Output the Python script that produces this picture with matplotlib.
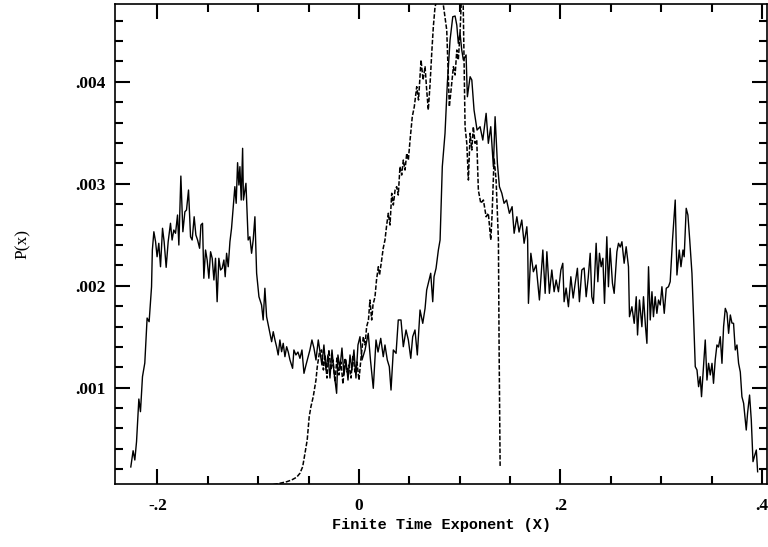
import matplotlib
matplotlib.use("Agg")
from matplotlib import pyplot as plt
from matplotlib.ticker import MultipleLocator, FuncFormatter

# solid curve: finite time exponent X and P(x) in units of 1e-3
solid_x = [-0.2265, -0.2242, -0.2225, -0.2208, -0.2185, -0.2169, -0.2149, -0.2126, -0.2103, -0.2083,
           -0.2059, -0.2051, -0.2036, -0.2019, -0.2004, -0.1987, -0.1970, -0.1950, -0.1934, -0.1914,
           -0.1894, -0.1871, -0.1855, -0.1838, -0.1821, -0.1801, -0.1788, -0.1768, -0.1748, -0.1728,
           -0.1712, -0.1692, -0.1672, -0.1656, -0.1636, -0.1619, -0.1602, -0.1582, -0.1569, -0.1553,
           -0.1540, -0.1523, -0.1507, -0.1490, -0.1473, -0.1457, -0.1440, -0.1424, -0.1408, -0.1391,
           -0.1374, -0.1358, -0.1341, -0.1328, -0.1314, -0.1298, -0.1281, -0.1265, -0.1249, -0.1232,
           -0.1219, -0.1205, -0.1192, -0.1182, -0.1169, -0.1155, -0.1147, -0.1132, -0.1122, -0.1100,
           -0.1083, -0.1066, -0.1050, -0.1033, -0.1016, -0.0993, -0.0967, -0.0951, -0.0934, -0.0917,
           -0.0891, -0.0867, -0.0851, -0.0834, -0.0818, -0.0802, -0.0785, -0.0768, -0.0752, -0.0735,
           -0.0718, -0.0702, -0.0685, -0.0659, -0.0646, -0.0626, -0.0606, -0.0586, -0.0566, -0.0546,
           -0.0526, -0.0504, -0.0487, -0.0467, -0.0447, -0.0427, -0.0404, -0.0387, -0.0368, -0.0348,
           -0.0328, -0.0308, -0.0288, -0.0268, -0.0248, -0.0222, -0.0209, -0.0189, -0.0169, -0.0149,
           -0.0129, -0.0109, -0.0089, -0.0070, -0.0050, -0.0030, -0.0010, 0.0010, 0.0030, 0.0060,
           0.0092, 0.0114, 0.0142, 0.0169, 0.0189, 0.0216, 0.0241, 0.0258, 0.0281, 0.0301,
           0.0318, 0.0341, 0.0368, 0.0390, 0.0417, 0.0440, 0.0467, 0.0490, 0.0514, 0.0533,
           0.0556, 0.0579, 0.0606, 0.0633, 0.0656, 0.0672, 0.0688, 0.0712, 0.0732, 0.0745,
           0.0765, 0.0788, 0.0805, 0.0827, 0.0854, 0.0877, 0.0904, 0.0931, 0.0954, 0.0971,
           0.0986, 0.1003, 0.1020, 0.1036, 0.1063, 0.1076, 0.1103, 0.1120, 0.1142, 0.1172,
           0.1202, 0.1229, 0.1262, 0.1284, 0.1308, 0.1334, 0.1351, 0.1374, 0.1394, 0.1418,
           0.1440, 0.1465, 0.1493, 0.1520, 0.1540, 0.1567, 0.1589, 0.1616, 0.1639, 0.1666,
           0.1674, 0.1682, 0.1706, 0.1731, 0.1758, 0.1791, 0.1825, 0.1848, 0.1865, 0.1890,
           0.1914, 0.1937, 0.1957, 0.1980, 0.2004, 0.2023, 0.2036, 0.2056, 0.2079, 0.2103,
           0.2126, 0.2146, 0.2168, 0.2188, 0.2212, 0.2235, 0.2255, 0.2275, 0.2295, 0.2311,
           0.2327, 0.2354, 0.2371, 0.2387, 0.2404, 0.2421, 0.2437, 0.2460, 0.2476, 0.2493,
           0.2516, 0.2533, 0.2560, 0.2576, 0.2593, 0.2610, 0.2632, 0.2652, 0.2675, 0.2685,
           0.2709, 0.2732, 0.2752, 0.2765, 0.2784, 0.2808, 0.2824, 0.2844, 0.2858, 0.2874,
           0.2891, 0.2908, 0.2923, 0.2940, 0.2957, 0.2973, 0.2990, 0.3007, 0.3030, 0.3050,
           0.3072, 0.3089, 0.3112, 0.3139, 0.3156, 0.3179, 0.3196, 0.3216, 0.3228, 0.3248,
           0.3265, 0.3283, 0.3305, 0.3321, 0.3338, 0.3355, 0.3371, 0.3387, 0.3400, 0.3420,
           0.3437, 0.3454, 0.3470, 0.3487, 0.3504, 0.3519, 0.3536, 0.3553, 0.3569, 0.3586,
           0.3603, 0.3619, 0.3636, 0.3653, 0.3669, 0.3686, 0.3702, 0.3718, 0.3735, 0.3752,
           0.3768, 0.3785, 0.3801, 0.3818, 0.3844, 0.3857, 0.3877, 0.3894, 0.3911, 0.3929,
           0.3944, 0.3957]
solid_p = [0.223, 0.382, 0.291, 0.471, 0.889, 0.765, 1.108, 1.242, 1.683, 1.647,
           1.990, 2.350, 2.529, 2.431, 2.284, 2.416, 2.186, 2.563, 2.431, 2.180,
           2.431, 2.612, 2.448, 2.546, 2.514, 2.693, 2.399, 3.075, 2.529, 2.725,
           2.742, 2.938, 2.480, 2.448, 2.676, 2.497, 2.448, 2.367, 2.595, 2.612,
           2.073, 2.350, 2.252, 2.073, 2.333, 2.269, 2.056, 2.269, 1.843, 2.269,
           2.154, 2.171, 2.252, 2.088, 2.318, 2.186, 2.431, 2.563, 2.759, 2.971,
           2.808, 3.206, 2.987, 3.167, 2.840, 3.347, 2.840, 2.938, 3.004, 2.448,
           2.480, 2.318, 2.448, 2.676, 2.122, 1.892, 1.811, 1.664, 1.975, 1.696,
           1.566, 1.451, 1.549, 1.468, 1.402, 1.321, 1.468, 1.353, 1.435, 1.304,
           1.402, 1.350, 1.272, 1.190, 1.370, 1.321, 1.350, 1.288, 1.370, 1.141,
           1.223, 1.304, 1.370, 1.468, 1.389, 1.272, 1.468, 1.350, 1.223, 1.419,
           1.174, 1.321, 1.095, 1.370, 1.154, 0.945, 1.321, 1.193, 1.389, 1.125,
           1.272, 1.075, 1.321, 1.174, 1.370, 1.095, 1.419, 1.500, 1.272, 1.370,
           1.533, 1.272, 0.994, 1.468, 1.350, 1.484, 1.304, 1.419, 1.272, 1.206,
           0.977, 1.370, 1.337, 1.664, 1.664, 1.402, 1.566, 1.468, 1.288, 1.500,
           1.566, 1.321, 1.762, 1.631, 1.778, 1.958, 2.024, 2.122, 1.843, 2.088,
           2.171, 2.350, 2.448, 3.167, 3.494, 3.984, 4.409, 4.637, 4.644, 4.554,
           4.376, 4.477, 4.311, 4.213, 4.262, 3.853, 4.049, 4.017, 3.723, 3.526,
           3.559, 3.428, 3.690, 3.396, 3.559, 3.167, 3.657, 3.200, 2.971, 2.906,
           2.808, 2.840, 2.710, 2.775, 2.514, 2.676, 2.526, 2.644, 2.416, 2.578,
           2.448, 1.827, 2.318, 2.137, 2.203, 1.860, 2.350, 1.925, 2.333, 1.925,
           2.154, 1.941, 2.056, 1.941, 2.154, 2.220, 1.843, 1.977, 1.794, 2.088,
           1.879, 2.024, 2.171, 1.843, 2.154, 2.174, 1.892, 2.075, 2.318, 1.892,
           1.827, 2.416, 2.039, 2.318, 2.186, 2.269, 1.827, 2.480, 1.990, 2.367,
           2.024, 1.925, 2.333, 2.416, 2.379, 2.431, 2.220, 2.382, 2.186, 1.696,
           1.794, 1.631, 1.892, 1.517, 1.860, 1.598, 1.892, 1.598, 1.435, 2.186,
           1.664, 1.941, 1.696, 1.892, 1.729, 1.860, 1.811, 1.990, 1.729, 1.975,
           1.990, 2.039, 2.448, 2.840, 2.105, 2.350, 2.186, 2.350, 2.284, 2.759,
           2.693, 2.448, 2.122, 1.696, 1.206, 1.174, 1.010, 1.108, 0.912, 1.206,
           1.468, 1.075, 1.239, 1.125, 1.239, 1.043, 1.272, 1.419, 1.399, 1.500,
           1.239, 1.598, 1.778, 1.732, 1.533, 1.713, 1.634, 1.631, 1.370, 1.419,
           1.239, 1.154, 0.912, 0.847, 0.585, 0.749, 0.928, 0.683, 0.275, 0.340,
           0.389, 0.176]

# dashed curve
dash_x = [-0.0851, -0.0785, -0.0718, -0.0669, -0.0619, -0.0586, -0.0559, -0.0536, -0.0514, -0.0494,
          -0.0477, -0.0454, -0.0427, -0.0414, -0.0394, -0.0371, -0.0353, -0.0338, -0.0318, -0.0298,
          -0.0278, -0.0258, -0.0238, -0.0219, -0.0199, -0.0179, -0.0159, -0.0139, -0.0119, -0.0099,
          -0.0079, -0.0060, -0.0040, -0.0020, 0.0000, 0.0020, 0.0043, 0.0060, 0.0076, 0.0094,
          0.0109, 0.0126, 0.0139, 0.0159, 0.0174, 0.0192, 0.0204, 0.0225, 0.0241, 0.0258,
          0.0275, 0.0291, 0.0308, 0.0325, 0.0341, 0.0358, 0.0374, 0.0390, 0.0407, 0.0424,
          0.0440, 0.0457, 0.0474, 0.0490, 0.0507, 0.0529, 0.0549, 0.0573, 0.0591, 0.0616,
          0.0636, 0.0656, 0.0672, 0.0688, 0.0705, 0.0722, 0.0738, 0.0755, 0.0788, 0.0824,
          0.0871, 0.0897, 0.0914, 0.0937, 0.0954, 0.0971, 0.0986, 0.1003, 0.1018, 0.1033,
          0.1043, 0.1053, 0.1070, 0.1086, 0.1103, 0.1120, 0.1135, 0.1152, 0.1169, 0.1185,
          0.1209, 0.1235, 0.1262, 0.1284, 0.1308, 0.1321, 0.1341, 0.1361, 0.1384, 0.1391,
          0.1401]
dash_p = [0.050, 0.063, 0.078, 0.095, 0.122, 0.161, 0.225, 0.357, 0.487, 0.716,
          0.814, 0.912, 1.075, 1.206, 1.337, 1.370, 1.174, 1.321, 1.095, 1.370,
          1.174, 1.272, 1.056, 1.291, 1.125, 1.252, 1.036, 1.291, 1.154, 1.223,
          1.095, 1.321, 1.154, 1.252, 1.075, 1.291, 1.500, 1.419, 1.598, 1.664,
          1.860, 1.664, 1.811, 1.892, 2.056, 2.186, 2.105, 2.252, 2.370, 2.448,
          2.595, 2.710, 2.595, 2.906, 2.791, 2.936, 2.971, 2.889, 3.167, 3.085,
          3.232, 3.134, 3.298, 3.232, 3.428, 3.657, 3.755, 3.951, 3.821, 4.213,
          4.017, 4.147, 3.919, 3.723, 3.968, 4.278, 4.539, 4.735, 4.850, 4.850,
          4.507, 3.755, 3.919, 4.147, 4.066, 4.311, 4.213, 4.477, 4.850, 4.850,
          4.213, 3.559, 3.396, 3.036, 3.494, 3.330, 3.559, 3.396, 3.428, 2.936,
          2.808, 2.840, 2.676, 2.710, 2.448, 2.693, 3.250, 3.036, 2.448, 1.370,
          0.225]

x_ticks = [-0.2, 0.0, 0.2, 0.4]
y_ticks = [0.001, 0.002, 0.003, 0.004]


def strip_zero(v, pos=None):
    if abs(v) < 1e-12:
        return "0"
    s = f"{v:g}"
    return s.replace("0.", ".")


fig = plt.figure(figsize=(7.68, 5.47), dpi=100)
ax = fig.add_axes([0.1501, 0.1152, 0.8486, 0.8775])

ax.plot(solid_x, [p * 1e-3 for p in solid_p], color="black", lw=1.0)
ax.plot(dash_x, [p * 1e-3 for p in dash_p], color="black", lw=1.1, dashes=(3, 1.2))

ax.set_xlim(-0.2419, 0.405)
ax.set_ylim(0.000056, 0.004762)

ax.set_xticks(x_ticks)
ax.xaxis.set_minor_locator(MultipleLocator(0.05))
ax.set_yticks(y_ticks)
ax.yaxis.set_minor_locator(MultipleLocator(0.0002))
ax.xaxis.set_major_formatter(FuncFormatter(strip_zero))
ax.yaxis.set_major_formatter(FuncFormatter(strip_zero))

ax.tick_params(which="both", direction="in", top=True, right=True, width=1.5, color="black")
ax.tick_params(which="major", length=11)
ax.tick_params(which="minor", length=6)
ax.tick_params(axis="x", which="major", pad=10)
ax.tick_params(axis="y", which="major", pad=7)
for lab in ax.get_xticklabels() + ax.get_yticklabels():
    lab.set_fontfamily("Liberation Serif")
    lab.set_fontweight("bold")
    lab.set_fontsize(12.5)
for sp in ax.spines.values():
    sp.set_linewidth(1.2)

ax.set_xlabel("Finite Time Exponent (X)", fontfamily="Liberation Mono", fontweight="bold",
              fontsize=11, labelpad=3)
ax.set_ylabel("P(x)", fontfamily="Liberation Serif", fontsize=12.5, labelpad=32)

fig.savefig("out.png", dpi=100)
